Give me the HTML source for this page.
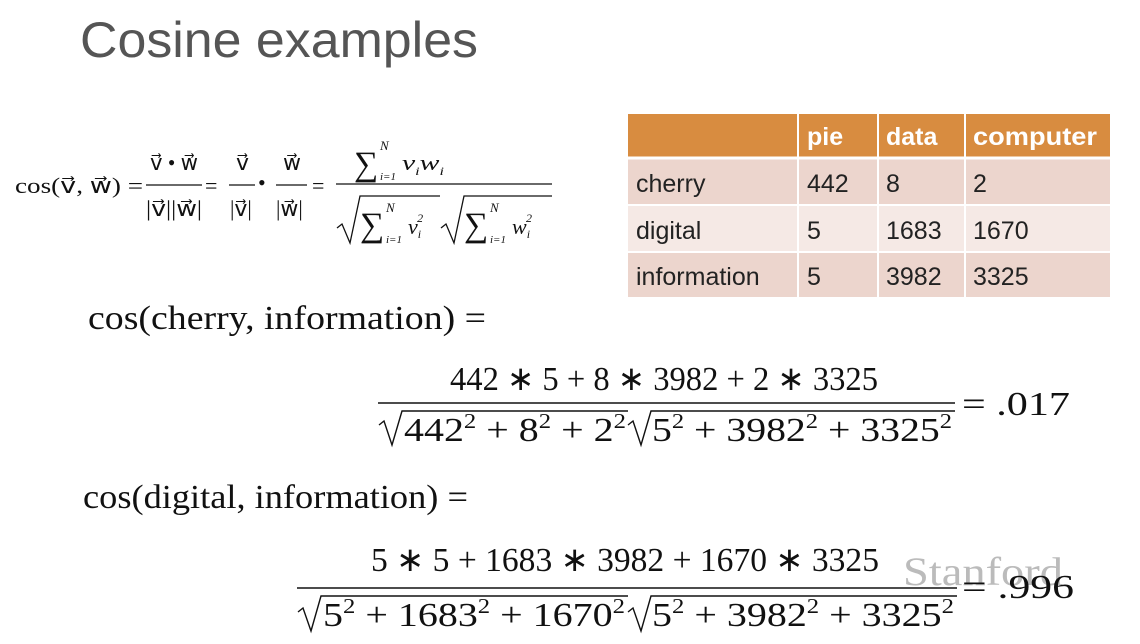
<!DOCTYPE html>
<html><head><meta charset="utf-8"><style>
html,body{margin:0;padding:0;background:#fff;width:1140px;height:644px;overflow:hidden}
svg{display:block}
.m{font-family:"Liberation Serif",serif;fill:#111}
.s{font-family:"Liberation Sans",sans-serif}
</style></head><body>
<svg width="1140" height="644" viewBox="0 0 1140 644">
<text class="s" x="80" y="57" font-size="50" fill="#555" textLength="398" lengthAdjust="spacingAndGlyphs">Cosine examples</text>

<g class="m" font-size="22">
<text x="15" y="193" textLength="128" lengthAdjust="spacingAndGlyphs">cos(v⃗, w⃗) =</text>
<text x="150" y="170" textLength="48" lengthAdjust="spacingAndGlyphs">v⃗ • w⃗</text>
<line x1="146" y1="185" x2="202" y2="185" stroke="#111" stroke-width="1.2"/>
<text x="146" y="216" textLength="56" lengthAdjust="spacingAndGlyphs">|v⃗||w⃗|</text>
<text x="205" y="193">=</text>
<text x="236" y="170">v⃗</text>
<line x1="229" y1="185" x2="255" y2="185" stroke="#111" stroke-width="1.2"/>
<text x="230" y="216">|v⃗|</text>
<text x="258" y="190">•</text>
<text x="283" y="170">w⃗</text>
<line x1="276" y1="185" x2="307" y2="185" stroke="#111" stroke-width="1.2"/>
<text x="276" y="216">|w⃗|</text>
<text x="312" y="193">=</text>
<text x="354" y="175" font-size="34">∑</text>
<text x="380" y="180" font-size="11" font-style="italic">i=1</text>
<text x="380" y="150" font-size="13" font-style="italic">N</text>
<text x="402" y="170" textLength="42" lengthAdjust="spacingAndGlyphs" font-style="italic">v<tspan font-size="12" dy="5">i</tspan><tspan dy="-5">w</tspan><tspan font-size="12" dy="5">i</tspan></text>
<line x1="336" y1="184" x2="552" y2="184" stroke="#111" stroke-width="1.2"/>
<path d="M337 228 L342 224 L350 243 L360 196 L440 196" fill="none" stroke="#111" stroke-width="1.3"/>
<text x="360" y="236" font-size="34">∑</text>
<text x="386" y="243" font-size="11" font-style="italic">i=1</text>
<text x="386" y="212" font-size="13" font-style="italic">N</text>
<text x="408" y="234" font-style="italic">v<tspan font-size="12" dy="4">i</tspan><tspan font-size="12" dy="-16" dx="-4">2</tspan></text>
<path d="M441 228 L446 224 L454 243 L464 196 L552 196" fill="none" stroke="#111" stroke-width="1.3"/>
<text x="464" y="236" font-size="34">∑</text>
<text x="490" y="243" font-size="11" font-style="italic">i=1</text>
<text x="490" y="212" font-size="13" font-style="italic">N</text>
<text x="512" y="234" font-style="italic">w<tspan font-size="12" dy="4">i</tspan><tspan font-size="12" dy="-16" dx="-4">2</tspan></text>
</g>

<g class="s" font-size="25">
<rect x="628" y="114" width="482" height="44" fill="#d88c40"/>
<rect x="628" y="158" width="482" height="47" fill="#ecd5cd"/>
<rect x="628" y="205" width="482" height="47" fill="#f5e9e5"/>
<rect x="628" y="252" width="482" height="45" fill="#ecd5cd"/>
<g stroke="#fff" stroke-width="2">
<line x1="628" y1="158" x2="1110" y2="158" stroke-width="3"/>
<line x1="628" y1="205" x2="1110" y2="205"/>
<line x1="628" y1="252" x2="1110" y2="252"/>
<line x1="798" y1="114" x2="798" y2="297"/>
<line x1="878" y1="114" x2="878" y2="297"/>
<line x1="965" y1="114" x2="965" y2="297"/>
</g>
<g fill="#fff" font-weight="bold">
<text x="807" y="145">pie</text>
<text x="886" y="145">data</text>
<text x="973" y="145" textLength="124" lengthAdjust="spacingAndGlyphs">computer</text>
</g>
<g fill="#222">
<text x="636" y="192">cherry</text><text x="807" y="192">442</text><text x="886" y="192">8</text><text x="973" y="192">2</text>
<text x="636" y="239">digital</text><text x="807" y="239">5</text><text x="886" y="239">1683</text><text x="973" y="239">1670</text>
<text x="636" y="285">information</text><text x="807" y="285">5</text><text x="886" y="285">3982</text><text x="973" y="285">3325</text>
</g>
</g>

<g class="m" font-size="34">
<text x="88" y="329" textLength="398" lengthAdjust="spacingAndGlyphs">cos(cherry, information)  =</text>
<text x="450" y="390" textLength="428" lengthAdjust="spacingAndGlyphs">442 ∗ 5 + 8 ∗ 3982 + 2 ∗ 3325</text>
<line x1="378" y1="403" x2="955" y2="403" stroke="#111" stroke-width="1.5"/>
<path d="M379 425 L384 421 L392 445 L402 411 L628 411" fill="none" stroke="#111" stroke-width="1.4"/>
<text x="404" y="441" textLength="222" lengthAdjust="spacingAndGlyphs">442<tspan font-size="21" dy="-13">2</tspan><tspan dy="13"> + 8</tspan><tspan font-size="21" dy="-13">2</tspan><tspan dy="13"> + 2</tspan><tspan font-size="21" dy="-13">2</tspan></text>
<path d="M628 425 L633 421 L641 445 L651 411 L955 411" fill="none" stroke="#111" stroke-width="1.4"/>
<text x="652" y="441" textLength="300" lengthAdjust="spacingAndGlyphs">5<tspan font-size="21" dy="-13">2</tspan><tspan dy="13"> + 3982</tspan><tspan font-size="21" dy="-13">2</tspan><tspan dy="13"> + 3325</tspan><tspan font-size="21" dy="-13">2</tspan></text>
<text x="962" y="415" textLength="108" lengthAdjust="spacingAndGlyphs">= .017</text>
</g>

<g class="m" font-size="34">
<text x="83" y="508" textLength="385" lengthAdjust="spacingAndGlyphs">cos(digital, information)  =</text>
<text x="371" y="571" textLength="508" lengthAdjust="spacingAndGlyphs">5 ∗ 5 + 1683 ∗ 3982 + 1670 ∗ 3325</text>
<line x1="297" y1="588" x2="957" y2="588" stroke="#111" stroke-width="1.5"/>
<text x="903" y="585" font-size="40" fill="#bbb" textLength="160" lengthAdjust="spacingAndGlyphs">Stanford</text>
<path d="M298 612 L303 608 L311 631 L321 596 L628 596" fill="none" stroke="#111" stroke-width="1.4"/>
<text x="323" y="626" textLength="302" lengthAdjust="spacingAndGlyphs">5<tspan font-size="21" dy="-13">2</tspan><tspan dy="13"> + 1683</tspan><tspan font-size="21" dy="-13">2</tspan><tspan dy="13"> + 1670</tspan><tspan font-size="21" dy="-13">2</tspan></text>
<path d="M628 612 L633 608 L641 631 L651 596 L957 596" fill="none" stroke="#111" stroke-width="1.4"/>
<text x="652" y="626" textLength="302" lengthAdjust="spacingAndGlyphs">5<tspan font-size="21" dy="-13">2</tspan><tspan dy="13"> + 3982</tspan><tspan font-size="21" dy="-13">2</tspan><tspan dy="13"> + 3325</tspan><tspan font-size="21" dy="-13">2</tspan></text>
<text x="962" y="598" textLength="112" lengthAdjust="spacingAndGlyphs">= .996</text>
</g>
</svg>
</body></html>
